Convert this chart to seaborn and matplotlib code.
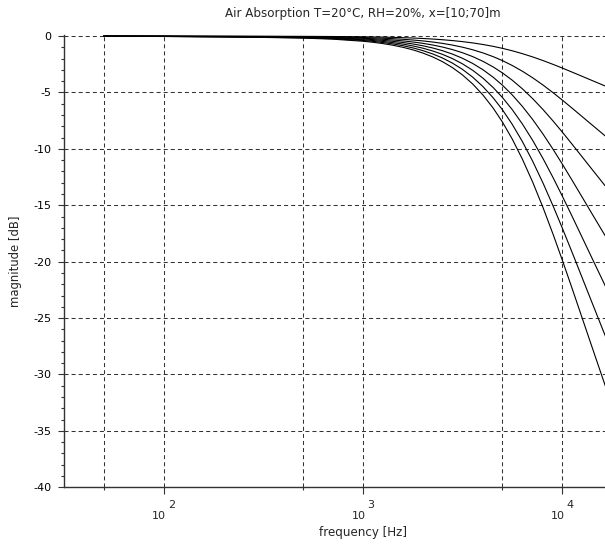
import matplotlib
matplotlib.use("Agg")
import matplotlib.pyplot as plt
import pandas as pd
import seaborn as sns
from matplotlib.ticker import FixedLocator, FixedFormatter, MultipleLocator, NullFormatter

# Air absorption coefficient (dB per metre) at T=20 °C, RH=20 %
frequency_hz = [50, 100, 200, 300, 500, 700, 1000, 1120, 1250, 1400, 1600,
                1800, 2000, 2240, 2500, 2800, 3150, 3550, 4000, 4500, 5000,
                5600, 6300, 7100, 8000, 9000, 10000, 11200, 12500, 14000,
                16000, 17000]
attenuation_db_per_m = [0.00017, 0.00053, 0.00115, 0.00161, 0.00259, 0.00388,
                        0.00654, 0.00784, 0.00942, 0.01143, 0.01445, 0.01783,
                        0.02156, 0.02648, 0.03232, 0.03969, 0.04907, 0.06068,
                        0.07472, 0.09130, 0.10866, 0.13018, 0.15574, 0.18495,
                        0.21716, 0.25146, 0.2838, 0.3197, 0.3551, 0.3917,
                        0.4346, 0.4539]
distances_m = [10, 20, 30, 40, 50, 60, 70]

x_major_ticks = [100, 1000, 10000]
x_exponents = ["2", "3", "4"]
x_minor_ticks = [50, 500, 5000, 50000]
y_ticks = [-40, -35, -30, -25, -20, -15, -10, -5, 0]
y_tick_labels = ["-40", "-35", "-30", "-25", "-20", "-15", "-10", "-5", "0"]

title = "Air Absorption T=20°C, RH=20%, x=[10;70]m"
x_label = "frequency [Hz]"
y_label = "magnitude [dB]"

rows = []
for d in distances_m:
    for f, a in zip(frequency_hz, attenuation_db_per_m):
        rows.append({"frequency": f, "magnitude": -a * d, "distance": d})
df = pd.DataFrame(rows)

sns.set_style("ticks")
plt.rcParams["font.family"] = ["DejaVu Sans"]
plt.rcParams["lines.scale_dashes"] = False
plt.rcParams["axes.unicode_minus"] = False

W, H = 605, 545
fig = plt.figure(figsize=(W / 100, H / 100), dpi=100)
left, right, top, bottom = 64, 662, 35.5, 487.3
ax = fig.add_axes([left / W, 1 - bottom / H, (right - left) / W, (bottom - top) / H])

ink = "#333333"

sns.lineplot(data=df, x="frequency", y="magnitude", units="distance",
             estimator=None, color="black", linewidth=0.8, ax=ax, legend=False)
for ln in ax.lines:
    ln.set_clip_on(False)

ax.set_xscale("log")
ax.set_xlim(10 ** 1.5, 10 ** 4.5)
ax.set_ylim(-40, 0.05)

for side in ("top", "right"):
    ax.spines[side].set_visible(False)
for side in ("left", "bottom"):
    ax.spines[side].set_color(ink)
    ax.spines[side].set_linewidth(1.0)

ax.xaxis.set_major_locator(FixedLocator(x_major_ticks))
ax.xaxis.set_minor_locator(FixedLocator(x_minor_ticks))
ax.xaxis.set_major_formatter(NullFormatter())
ax.xaxis.set_minor_formatter(NullFormatter())
ax.yaxis.set_major_locator(FixedLocator(y_ticks))
ax.yaxis.set_major_formatter(FixedFormatter(y_tick_labels))
ax.yaxis.set_minor_locator(MultipleLocator(1))

ax.tick_params(axis="both", which="both", direction="out", color=ink, width=0.8,
               labelsize=8, labelcolor="black")
ax.tick_params(axis="x", which="major", length=5)
ax.tick_params(axis="x", which="minor", length=2.5)
ax.tick_params(axis="y", which="major", length=4.3, pad=5)
ax.tick_params(axis="y", which="minor", length=2.2)

grid_style = dict(color=ink, linewidth=0.75, linestyle=(0, (2.9, 2.2)))
ax.grid(True, axis="x", which="both", **grid_style)
ax.grid(True, axis="y", which="major", **grid_style)
ax.set_axisbelow(True)

for f, e in zip(x_major_ticks, x_exponents):
    ax.annotate("10", xy=(f, 0), xycoords=("data", "axes fraction"),
                xytext=(2.5, -28.7), textcoords="offset pixels",
                ha="right", va="center", fontsize=8, annotation_clip=False)
    ax.annotate(e, xy=(f, 0), xycoords=("data", "axes fraction"),
                xytext=(4, -17.5), textcoords="offset pixels",
                ha="left", va="center", fontsize=8, annotation_clip=False)

ax.set_title(title, fontsize=8.6, pad=13)
ax.set_xlabel(x_label, fontsize=8.6)
ax.set_ylabel(y_label, fontsize=8.4)
ax.xaxis.set_label_coords(0.5, -0.086)
ax.yaxis.set_label_coords(-0.07, 0.5)

fig.savefig("out.png", dpi=100)
